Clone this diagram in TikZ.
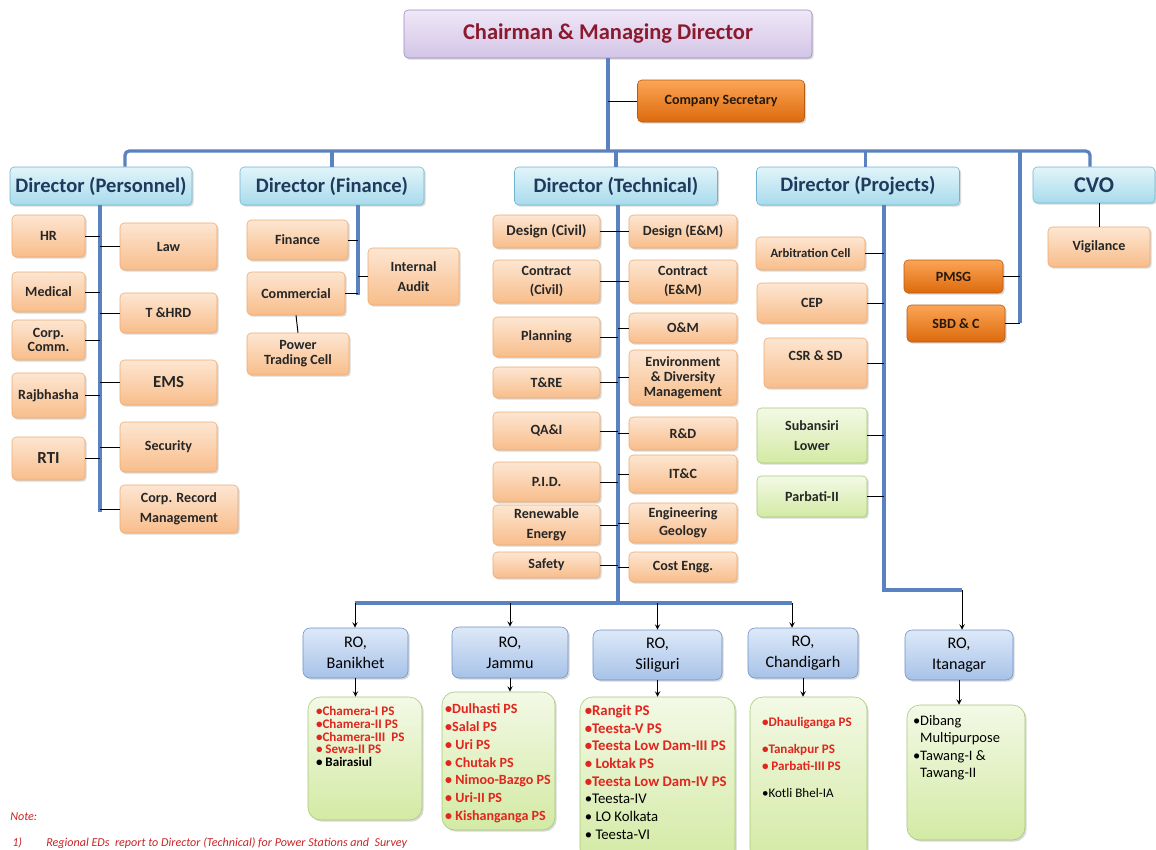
\documentclass[tikz,border=0pt]{standalone}
\usepackage{fontspec}
\setmainfont{Carlito}
\usetikzlibrary{positioning,shadows,arrows}

\definecolor{trunkblue}{HTML}{5B82C0}
\definecolor{cmdtop}{HTML}{EFE8F7}
\definecolor{cmdbot}{HTML}{D3C4E6}
\definecolor{cmdline}{HTML}{9A88C4}
\definecolor{cmdtext}{HTML}{8B1A2E}
\definecolor{dirtop}{HTML}{E2F4FA}
\definecolor{dirbot}{HTML}{A8DBEC}
\definecolor{dirline}{HTML}{6DB5CF}
\definecolor{dirtext}{HTML}{1F3A5C}
\definecolor{subtop}{HTML}{FDE6D2}
\definecolor{subbot}{HTML}{F8BD8A}
\definecolor{subline}{HTML}{EDAA72}
\definecolor{hottop}{HTML}{FBA556}
\definecolor{hotbot}{HTML}{DD6A0C}
\definecolor{hotline}{HTML}{B85A10}
\definecolor{greentop}{HTML}{F3F9E6}
\definecolor{greenbot}{HTML}{D3EAA4}
\definecolor{greenline}{HTML}{A6C777}
\definecolor{rotop}{HTML}{DDE9F8}
\definecolor{robot}{HTML}{A7C2E8}
\definecolor{roline}{HTML}{6C90C8}
\definecolor{psred}{HTML}{E0261E}
\definecolor{notered}{HTML}{C8262A}
\newcommand{\redps}[1]{\textcolor{psred}{\bfseries #1}}

\begin{document}
\begin{tikzpicture}[x=0.025cm,y=-0.025cm,
    wh/.style 2 args={minimum width=#1*0.025cm,minimum height=#2*0.025cm},
    box/.style={rounded corners=3pt,inner sep=1pt,align=center,
      drop shadow={opacity=0.3,shadow xshift=1.2pt,shadow yshift=-1.2pt}},
    cmdbox/.style={box,draw=cmdline,top color=cmdtop,bottom color=cmdbot,text=cmdtext,
      font=\fontsize{16}{18}\selectfont\bfseries},
    dirbox/.style={box,draw=dirline,top color=dirtop,bottom color=dirbot,text=dirtext,
      font=\fontsize{14.6}{17}\selectfont\bfseries},
    subbox/.style={box,draw=subline,top color=subtop,bottom color=subbot,text=black!85,
      font=\fontsize{10}{10.8}\selectfont\bfseries},
    hotbox/.style={box,draw=hotline,top color=hottop,bottom color=hotbot,text=black!80!brown,
      font=\fontsize{10}{11}\selectfont\bfseries},
    projbox/.style={subbox,draw=greenline,top color=greentop,bottom color=greenbot},
    robox/.style={box,rounded corners=5pt,draw=roline,top color=rotop,bottom color=robot,
      font=\fontsize{11.5}{15}\selectfont},
    listbox/.style={box,rounded corners=9pt,draw=greenline,top color=greentop,bottom color=greenbot},
    listtext/.style={align=left,inner sep=0pt,font=\fontsize{10}{12.6}\selectfont},
    notetext/.style={text=notered,inner sep=0pt,font=\fontsize{8.6}{9}\selectfont\itshape},
    trunk/.style={trunkblue,line width=2.3pt},
    tie/.style={black,line width=0.7pt},
    arr/.style={-stealth,black,line width=0.7pt}]

  \fill[white] (0,0) rectangle (1156,849);
  \useasboundingbox (0,0) rectangle (1156,849);

  % top
  \node[cmdbox,wh={408}{48}] (cmd) at (608,34) {Chairman \& Managing Director};
  \node[hotbox,wh={167}{42}] (csec) at (721,101) {Company Secretary};
  \node[dirbox,wh={182}{38}] (dpers) at (101,186) {Director (Personnel)};
  \node[dirbox,wh={184}{38}] (dfin) at (332,186) {Director (Finance)};
  \node[dirbox,wh={203}{38}] (dtech) at (616,186) {Director (Technical)};
  \node[dirbox,wh={203}{38}] (dproj) at (858,186) {Director (Projects)};
  \node[dirbox,wh={122}{36},font=\fontsize{16}{18}\selectfont\bfseries] (dcvo) at (1094,185) {CVO};

  \coordinate (busL) at (125,151);
  \coordinate (busR) at (1090,151);
  \draw[trunk] (cmd.south) -- (cmd.south |- busL);
  \draw[trunk,rounded corners=3pt] (busL |- dpers.north) -- (busL) -- (busR) -- (busR |- dcvo.north);
  \foreach \d in {dfin,dtech}
    \draw[trunk] (\d.north) -- (\d.north |- busL);
  \draw[trunk] ([xshift=0.18cm]dproj.north) -- ([xshift=0.18cm]dproj.north |- busL);
  \draw[tie] (csec.west -| cmd.south) -- (csec.west);

  % personnel
  \node[subbox,wh={73}{42}] (hr) at (48.5,236) {HR};
  \node[subbox,wh={73}{40}] (med) at (48.5,292) {Medical};
  \node[subbox,wh={73}{40},font=\fontsize{10}{9.5}\selectfont\bfseries] (ccomm) at (48.5,340) {Corp.\\Comm.};
  \node[subbox,wh={73}{45}] (rajb) at (48.5,395.5) {Rajbhasha};
  \node[subbox,wh={73}{43},font=\fontsize{12}{13}\selectfont\bfseries] (rti) at (48.5,458.5) {RTI};
  \node[subbox,wh={97}{47}] (law) at (168.5,246.5) {Law};
  \node[subbox,wh={97}{40}] (thrd) at (168.5,313) {T \&HRD};
  \node[subbox,wh={97}{45},font=\fontsize{12}{13}\selectfont\bfseries] (ems) at (168.5,382.5) {EMS};
  \node[subbox,wh={97}{50}] (secu) at (168.5,447) {Security};
  \node[subbox,wh={118}{48},font=\fontsize{10}{14}\selectfont\bfseries] (crm) at (179,509) {Corp. Record\\Management};
  \coordinate (pend) at (100,512);
  \draw[trunk] (pend |- dpers.south) -- (pend);
  \foreach \n in {hr,med,ccomm,rajb,rti}
    \draw[tie] (\n.east) -- (\n.east -| pend);
  \foreach \n in {law,thrd,ems,secu,crm}
    \draw[tie] (\n.west) -- (\n.west -| pend);

  % finance
  \node[subbox,wh={101}{40}] (fin) at (297.5,240) {Finance};
  \node[subbox,wh={98}{43}] (comm) at (296,293.5) {Commercial};
  \node[subbox,wh={91}{57},font=\fontsize{10}{14}\selectfont\bfseries] (ia) at (413.5,276.5) {Internal\\Audit};
  \node[subbox,wh={102}{42}] (ptc) at (298,354) {Power\\Trading Cell};
  \coordinate (fend) at (358,295);
  \draw[trunk] (fend |- dfin.south) -- (fend);
  \foreach \n in {fin,comm}
    \draw[tie] (\n.east) -- (\n.east -| fend);
  \draw[tie] (ia.west) -- (ia.west -| fend);
  \draw[tie] (comm.south) -- (ptc.north);

  % technical
  \node[subbox,wh={107}{33},font=\fontsize{10.6}{11}\selectfont\bfseries] (dciv) at (546.5,231.5) {Design (Civil)};
  \node[subbox,wh={107}{43},font=\fontsize{10}{14}\selectfont\bfseries] (cciv) at (546.5,281.5) {Contract\\(Civil)};
  \node[subbox,wh={107}{40}] (plan) at (546.5,337) {Planning};
  \node[subbox,wh={107}{31}] (tre) at (546.5,382.5) {T\&RE};
  \node[subbox,wh={107}{38}] (qai) at (546.5,431) {QA\&I};
  \node[subbox,wh={107}{40}] (pid) at (546.5,482) {P.I.D.};
  \node[subbox,wh={107}{40},font=\fontsize{10}{14}\selectfont\bfseries] (reen) at (546.5,525) {Renewable\\Energy};
  \node[subbox,wh={107}{26}] (safe) at (546.5,565) {Safety};
  \node[subbox,wh={108}{33}] (dem) at (683,231.5) {Design (E\&M)};
  \node[subbox,wh={108}{43},font=\fontsize{10}{13}\selectfont\bfseries] (cem) at (683,281.5) {Contract\\(E\&M)};
  \node[subbox,wh={108}{30}] (om) at (683,328) {O\&M};
  \node[subbox,wh={108}{55}] (edm) at (683,377.5) {Environment\\\& Diversity\\Management};
  \node[subbox,wh={108}{33}] (rnd) at (683,433.5) {R\&D};
  \node[subbox,wh={108}{38}] (itc) at (683,474) {IT\&C};
  \node[subbox,wh={108}{40},font=\fontsize{10}{13}\selectfont\bfseries] (geo) at (683,523) {Engineering\\Geology};
  \node[subbox,wh={108}{30}] (cost) at (683,567) {Cost Engg.};
  \coordinate (tend) at (618,603);
  \draw[trunk] (tend |- dtech.south) -- (tend);
  \foreach \n in {dciv,cciv,plan,tre,qai,pid,reen,safe}
    \draw[tie] (\n.east) -- (\n.east -| tend);
  \foreach \n in {dem,cem,om,edm,rnd,itc,geo,cost}
    \draw[tie] (\n.west) -- (\n.west -| tend);

  % projects
  \node[subbox,wh={109}{33},font=\fontsize{9}{10}\selectfont\bfseries] (arb) at (810.5,253.5) {Arbitration Cell};
  \node[subbox,wh={110}{40}] (cep) at (812,303) {CEP};
  \node[subbox,wh={103}{50}] (csr) at (815.5,363) {CSR \& SD\\\mbox{}};
  \node[projbox,wh={110}{55},font=\fontsize{10}{14}\selectfont\bfseries] (sub) at (812,435.5) {Subansiri\\Lower};
  \node[projbox,wh={110}{41}] (par) at (812,496.5) {Parbati-II};
  \node[hotbox,wh={99}{33}] (pmsg) at (953.5,276.5) {PMSG};
  \node[hotbox,wh={98}{37}] (sbdc) at (956,323.5) {SBD \& C};
  \coordinate (pjturn) at (884,590);
  \coordinate (pjend) at (962,590);
  \draw[trunk] (pjturn |- dproj.south) -- (pjturn) -- (pjend);
  \foreach \n in {arb,cep,csr,sub,par}
    \draw[tie] (\n.east) -- (\n.east -| pjturn);
  \coordinate (sbdend) at (1020,323);
  \draw[trunk] (sbdend |- busL) -- (sbdend);
  \foreach \n in {pmsg,sbdc}
    \draw[tie] (\n.east) -- (\n.east -| sbdend);

  % cvo
  \node[subbox,wh={102}{40}] (vig) at (1099,247) {Vigilance};
  \draw[tie] (vig.north |- dcvo.south) -- (vig.north);

  % regional offices
  \node[robox,wh={105}{50}] (robank) at (355.5,653) {RO,\\Banikhet};
  \node[robox,wh={116}{51}] (rojam) at (510,652.5) {RO,\\Jammu};
  \node[robox,wh={129}{50}] (rosil) at (657.5,655) {RO,\\Siliguri};
  \node[robox,wh={110}{50}] (rochd) at (803,653) {RO,\\Chandigarh};
  \node[robox,wh={108}{50}] (roita) at (959,655) {RO,\\Itanagar};
  \coordinate (robL) at (355,603);
  \coordinate (robR) at (792,603);
  \draw[trunk] (robL) -- (robR);
  \draw[arr] (robL) -- (robL |- robank.north);
  \draw[arr] (rojam.north |- robL) -- (rojam.north);
  \draw[arr] (rosil.north |- robL) -- (rosil.north);
  \draw[arr] (robR) -- (robR |- rochd.north);
  \draw[arr] (pjend) -- (pjend |- roita.north);

  % power stations
  \node[listbox,wh={114}{123}] (lbank) at (365,758.5) {};
  \node[listbox,wh={113}{138}] (ljam) at (498.5,761) {};
  \node[listbox,wh={155}{165}] (lsil) at (657.5,779.5) {};
  \node[listbox,wh={117}{165}] (lchd) at (808.5,779.5) {};
  \node[listbox,wh={118}{135}] (lita) at (966,772.5) {};
  \foreach \r/\l in {robank/lbank,rojam/ljam,rosil/lsil,rochd/lchd,roita/lita}
    \draw[arr] (\r.south) -- (\r.south |- \l.north);

  \node[listtext,font=\fontsize{9.3}{9}\selectfont,below right=0.24cm and 0.2cm of lbank.north west] (lbank-t)
    {\redps{•Chamera-I PS}\\\redps{•Chamera-II PS}\\\redps{•Chamera-III\ \ PS}\\\redps{• Sewa-II PS}\\\textbf{• Bairasiul}};
  \node[listtext,below right=0.3cm and 0.08cm of ljam.north west] (ljam-t)
    {\redps{•Dulhasti PS}\\\redps{•Salal PS}\\\redps{• Uri PS}\\\redps{• Chutak PS}\\\redps{• Nimoo-Bazgo PS}\\\redps{• Uri-II PS}\\\redps{• Kishanganga PS}};
  \node[listtext,font=\fontsize{10.5}{12.6}\selectfont,below right=0.2cm and 0.12cm of lsil.north west] (lsil-t)
    {\redps{•Rangit PS}\\\redps{•Teesta-V PS}\\\redps{•Teesta Low Dam-III PS}\\\redps{• Loktak PS}\\\redps{•Teesta Low Dam-IV PS}\\•Teesta-IV\\• LO Kolkata\\• Teesta-VI};
  \node[listtext,font=\fontsize{9.3}{12}\selectfont,below right=0.52cm and 0.3cm of lchd.north west] (lchd-t)
    {\redps{•Dhauliganga PS}\\[7pt]\redps{•Tanakpur PS}\\\redps{• Parbati-III PS}\\[7pt]•Kotli Bhel-IA};
  \node[listtext,font=\fontsize{10.3}{12.5}\selectfont,below right=0.25cm and 0.15cm of lita.north west] (lita-t)
    {•Dibang\\\phantom{•}Multipurpose\\•Tawang-I \&\\\phantom{•}Tawang-II};

  % note
  \node[notetext,anchor=west] (note) at (10,817) {Note:};
  \node[notetext,anchor=west] (note1) at (12,843)
    {1)\hspace{2em}Regional EDs\ \ report to Director (Technical) for Power Stations and\ \ Survey};
\end{tikzpicture}
\end{document}
